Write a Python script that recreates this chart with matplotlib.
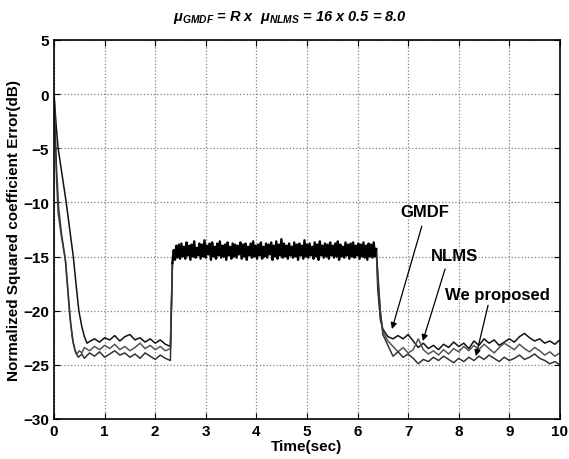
import matplotlib
matplotlib.use('Agg')
import matplotlib.pyplot as plt
import numpy as np

plt.rcParams['font.family'] = ['Liberation Sans', 'DejaVu Sans']
plt.rcParams['mathtext.fontset'] = 'custom'
plt.rcParams['mathtext.it'] = 'Liberation Sans:italic:bold'
plt.rcParams['mathtext.rm'] = 'Liberation Sans:italic:bold'

# settling part before the change (t, dB)
gmdf_t1 = [0, 0.04, 0.08, 0.16, 0.24, 0.31, 0.38, 0.44, 0.49, 0.55, 0.60, 0.65, 0.72, 0.8, 0.9, 1.0, 1.1,
           1.2, 1.3, 1.4, 1.5, 1.6, 1.7, 1.8, 1.9, 2.0, 2.1, 2.2, 2.3]
gmdf_v1 = [0, -2.8, -5.0, -7.5, -10.0, -12.5, -15.0, -17.8, -20.0, -21.5, -22.4, -23.0, -22.8, -22.6, -22.9,
           -22.5, -22.7, -22.3, -22.8, -22.4, -22.2, -22.7, -22.5, -22.9, -22.6, -23.0, -22.7, -23.1, -23.3]

nlms_t1 = [0, 0.02, 0.05, 0.08, 0.14, 0.22, 0.27, 0.31, 0.36, 0.41, 0.45, 0.5, 0.55, 0.6, 0.7, 0.8, 0.9,
           1.0, 1.1, 1.2, 1.3, 1.4, 1.5, 1.6, 1.7, 1.8, 1.9, 2.0, 2.1, 2.2, 2.3]
nlms_v1 = [0, -4.0, -8.0, -11.0, -13.0, -15.2, -18.0, -20.5, -22.5, -23.6, -24.0, -23.7, -23.9, -23.4,
           -23.7, -23.3, -23.6, -23.2, -23.5, -23.1, -23.6, -23.3, -23.7, -23.4, -23.0, -23.5, -23.2,
           -23.6, -23.3, -23.7, -23.5]

wp_t1 = [0, 0.02, 0.05, 0.09, 0.15, 0.23, 0.28, 0.33, 0.38, 0.43, 0.48, 0.55, 0.6, 0.7, 0.8, 0.9, 1.0,
         1.1, 1.2, 1.3, 1.4, 1.5, 1.6, 1.7, 1.8, 1.9, 2.0, 2.1, 2.2, 2.3]
wp_v1 = [0, -3.0, -7.0, -10.5, -13.0, -15.5, -18.5, -21.2, -23.0, -23.9, -24.3, -24.0, -24.4, -23.9,
         -24.2, -23.8, -24.3, -24.0, -23.7, -24.1, -23.9, -24.3, -24.0, -24.4, -23.9, -24.2, -24.5,
         -24.1, -24.4, -24.6]

# noisy plateau after the echo path change, shared by all three curves
plateau_start, plateau_end = 2.34, 6.37
plateau_v = [-15.6, -14.4, -15.3, -14.0, -15.1, -13.9, -15.2, -13.8, -15.0, -14.1,
             -15.2, -13.7, -14.9, -14.0, -15.3, -13.9, -15.0, -13.6, -15.1, -14.2,
             -14.9, -13.8, -15.2, -13.9, -15.0, -13.5, -15.1, -14.0, -14.8, -13.8,
             -15.3, -13.7, -15.0, -14.1, -15.2, -13.8, -14.9, -13.6, -15.1, -14.0,
             -15.0, -13.9, -15.3, -13.7, -14.9, -14.1, -15.2, -13.8, -15.0, -13.9,
             -15.1, -14.0, -14.8, -13.7, -15.2, -13.9, -15.0, -13.8, -15.3, -14.1,
             -14.9, -13.8, -15.1, -13.6, -15.0, -14.0, -15.2, -13.9, -14.9, -13.7,
             -15.2, -14.1, -15.0, -13.8, -15.1, -13.9, -14.8, -13.7, -15.3, -14.0,
             -15.0, -13.6, -15.2, -13.9, -14.9, -13.4, -15.1, -13.8, -15.0, -14.0,
             -15.2, -13.8, -14.9, -14.1, -15.1, -13.7, -15.0, -13.9, -15.3, -13.8,
             -14.9, -14.0, -15.2, -13.5, -15.0, -13.9, -15.1, -13.8, -14.9, -14.1,
             -15.2, -13.7, -15.0, -13.9, -15.3, -13.6, -14.9, -14.0, -15.1, -13.8,
             -15.0, -13.9, -15.2, -13.7, -14.9, -14.0, -15.1, -13.8, -15.0, -13.6,
             -15.3, -13.9, -15.0, -14.1, -15.1, -13.7, -14.9, -13.9, -15.2, -13.8,
             -15.0, -13.7, -15.1, -14.0, -14.9, -13.8, -15.2, -13.9, -15.0, -13.7,
             -15.1, -14.0, -15.3, -13.8, -15.0, -13.9, -15.1, -13.7, -15.0, -14.3]

# re-convergence after the plateau
late_t = [6.40, 6.45, 6.5, 6.6, 6.7, 6.8, 6.9, 7.0, 7.1, 7.2, 7.3, 7.4, 7.5, 7.6, 7.7, 7.8, 7.9, 8.0,
          8.1, 8.2, 8.3, 8.4, 8.5, 8.6, 8.7, 8.8, 8.9, 9.0, 9.1, 9.2, 9.3, 9.4, 9.5, 9.6, 9.7, 9.8,
          9.9, 10.0]
gmdf_v2 = [-18.0, -20.8, -21.7, -22.4, -22.6, -22.3, -22.6, -22.2, -22.8, -23.4, -23.0, -23.5, -23.2,
           -23.6, -23.1, -23.4, -22.9, -23.3, -23.0, -23.5, -22.8, -23.2, -22.6, -23.0, -22.7, -23.2,
           -22.9, -22.6, -22.9, -22.4, -22.1, -22.5, -22.8, -22.6, -23.0, -22.8, -23.1, -22.7]
nlms_v2 = [-17.0, -20.2, -21.9, -22.8, -23.3, -23.8, -23.4, -23.9, -23.6, -22.6, -23.6, -24.0, -23.7,
           -24.1, -23.6, -24.0, -23.5, -23.8, -23.3, -23.7, -23.2, -23.6, -23.1, -23.5, -23.9, -23.4,
           -23.0, -23.3, -23.6, -23.1, -23.5, -23.8, -23.4, -23.7, -24.1, -23.8, -24.2, -23.9]
wp_v2 = [-16.5, -20.0, -22.2, -23.2, -24.2, -23.8, -24.3, -24.0, -24.4, -24.9, -24.5, -24.7, -24.3,
         -24.6, -24.2, -24.5, -24.8, -24.4, -24.7, -24.3, -24.6, -24.2, -24.5, -24.1, -24.4, -24.7,
         -24.3, -24.6, -24.4, -24.1, -24.5, -24.3, -24.0, -24.4, -24.6, -24.9, -24.7, -25.0]

plateau_t = np.linspace(plateau_start, plateau_end, len(plateau_v))

fig = plt.figure(figsize=(5.69, 4.60), dpi=100)
ax = fig.add_axes([0.095, 0.087, 0.889, 0.824])

curves = [(gmdf_t1, gmdf_v1, gmdf_v2, '#111111'),
          (nlms_t1, nlms_v1, nlms_v2, '#555555'),
          (wp_t1, wp_v1, wp_v2, '#333333')]
for t1, v1, v2, c in curves:
    # own settling part up to the jump, and own re-convergence after it
    ax.plot(list(t1) + [plateau_t[0]], list(v1) + [plateau_v[0]], color=c, lw=1.1)
    ax.plot([plateau_t[-1]] + late_t, [plateau_v[-1]] + v2, color=c, lw=1.1)
# the three curves overlap in one dense band during the plateau
ax.plot(plateau_t, plateau_v, color='black', lw=1.7)

ax.set_xlim(0, 10)
ax.set_ylim(-30, 5)
ax.set_xticks(range(0, 11))
ax.set_yticks(range(-30, 6, 5))
ax.grid(True, linestyle=':', color='#808080', lw=0.9)
ax.tick_params(direction='in', top=True, right=True, labelsize=11, length=4)
for lab in ax.get_xticklabels() + ax.get_yticklabels():
    lab.set_fontweight('bold')
for s in ax.spines.values():
    s.set_linewidth(1.2)

ax.set_xlabel('Time(sec)', fontsize=11, fontweight='bold', labelpad=1)
ax.set_ylabel('Normalized Squared coefficient Error(dB)', fontsize=11, fontweight='bold', labelpad=2)

fig.text(0.51, 0.962, r'$\mu_{GMDF}$ = R x  $\mu_{NLMS}$ = 16 x 0.5 = 8.0', ha='center', va='center',
         fontsize=10.5, fontweight='bold', fontstyle='italic')

arrow = dict(arrowstyle='-|>', color='black', lw=0.9, mutation_scale=9, shrinkA=0, shrinkB=0)
ax.annotate('', xy=(6.68, -21.7), xytext=(7.27, -12.2), arrowprops=arrow)
ax.annotate('', xy=(7.29, -22.8), xytext=(7.73, -16.15), arrowprops=arrow)
ax.annotate('', xy=(8.34, -24.2), xytext=(8.58, -19.5), arrowprops=arrow)
ax.text(7.33, -10.8, 'GMDF', ha='center', va='center', fontsize=12, fontweight='bold')
ax.text(7.91, -14.95, 'NLMS', ha='center', va='center', fontsize=12, fontweight='bold')
ax.text(8.77, -18.55, 'We proposed', ha='center', va='center', fontsize=12, fontweight='bold')

fig.savefig('out.png', dpi=100)
